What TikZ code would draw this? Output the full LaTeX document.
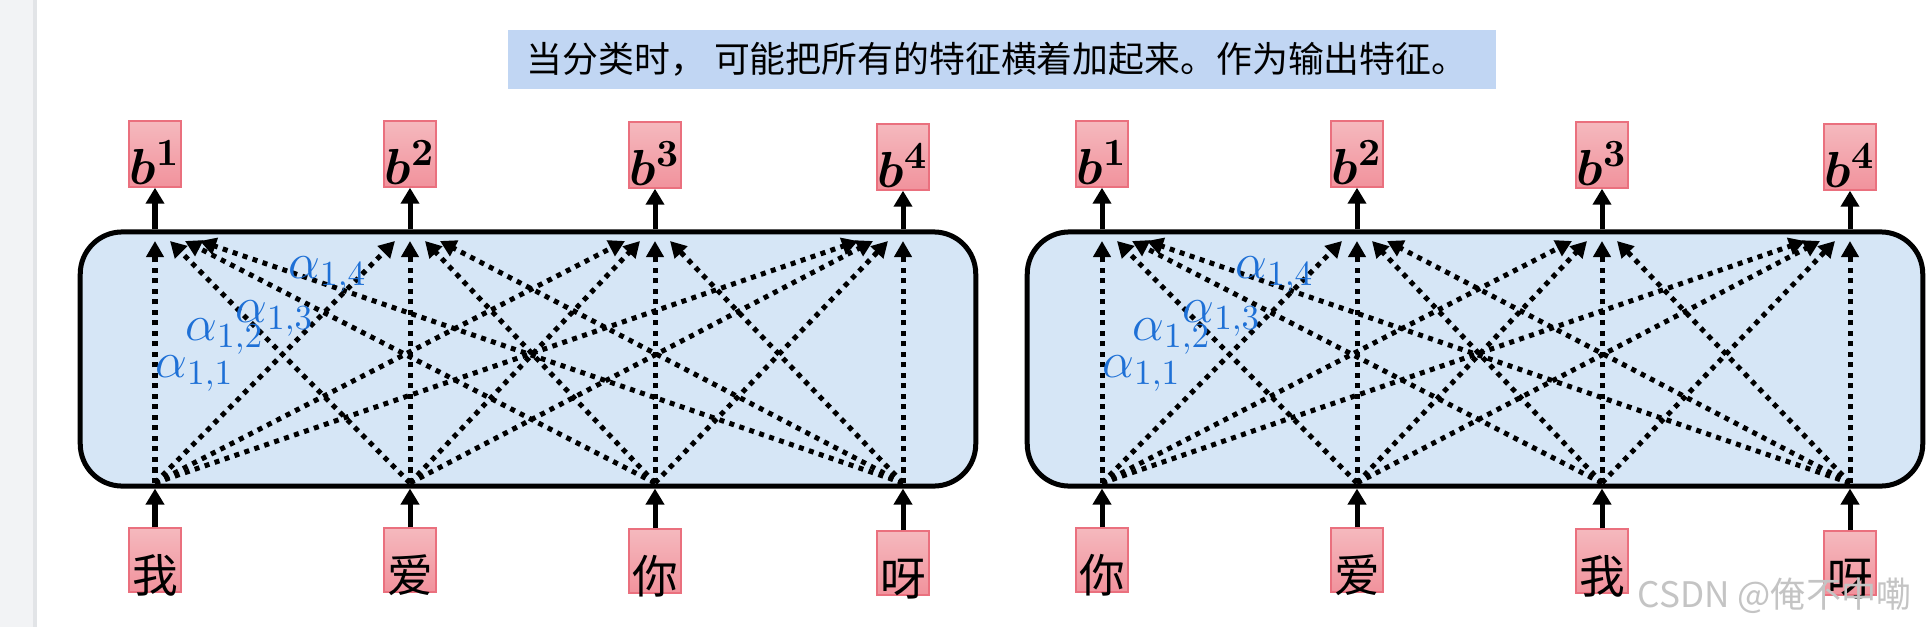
\documentclass[tikz,border=0pt]{standalone}
\usepackage{fontspec}
\usepackage{amsmath}
\usetikzlibrary{arrows.meta, calc, positioning}
\newfontfamily\cjk{Noto Sans CJK SC}
\definecolor{stripgray}{RGB}{242,243,245}
\definecolor{stripedge}{RGB}{226,228,231}
\definecolor{titleblue}{RGB}{193,214,243}
\definecolor{layerblue}{RGB}{214,230,246}
\definecolor{boxtop}{RGB}{245,185,190}
\definecolor{boxbot}{RGB}{241,146,156}
\definecolor{boxedge}{RGB}{234,112,126}
\definecolor{alphablue}{RGB}{30,112,214}
\definecolor{markgray}{RGB}{196,196,196}
\tikzset{
  outbox/.style={draw=boxedge, top color=boxtop, bottom color=boxbot, inner sep=0pt,
    minimum width=0.52cm, text height=0.63cm, text depth=0.03cm, font=\fontsize{15.5}{17}\selectfont\boldmath},
  inbox/.style={draw=boxedge, top color=boxtop, bottom color=boxbot, inner sep=0pt,
    minimum width=0.52cm, text height=0.64cm, text depth=0cm, font=\cjk\fontsize{13}{15}\selectfont},
  layer/.style={draw=black, line width=0.05cm, fill=layerblue, rounded corners=0.42cm,
    minimum width=8.95cm, minimum height=2.54cm, inner sep=0pt},
  outarrow/.style={line width=0.05cm, -{Triangle[length=0.16cm, width=0.18cm]}},
  attn/.style={line width=0.05cm, dash pattern=on 0.05cm off 0.055cm, -{Triangle[length=0.16cm, width=0.17cm]}},
  alphalab/.style={anchor=base west, text=alphablue, inner sep=0pt, font=\fontsize{14.5}{16}\selectfont}
}

\begin{document}
\begin{tikzpicture}[x=0.01cm, y=-0.01cm]
        % Page and side strip
        \useasboundingbox (0,0) rectangle (1929,627);
        \fill[white] (0,0) rectangle (1929,627);
        \fill[stripgray] (0,0) rectangle (34,627);
        \fill[stripedge] (33,0) rectangle (37,627);

        % Title
        \node[fill=titleblue, anchor=west, minimum width=9.88cm, minimum height=0.59cm] (titlebox) at (507,59.5) {};
        \node[anchor=west, inner sep=0pt, font=\cjk\fontsize{10.2}{12}\selectfont] (title) at ([xshift=0.19cm]titlebox.west) {当分类时， 可能把所有的特征横着加起来。作为输出特征。};

        % Two self-attention panels
        \foreach \p/\dx/\wordA/\wordB/\wordC/\wordD in {L/0/我/爱/你/呀, R/947/你/爱/我/呀} {
            \begin{scope}[shift={(\dx,0)}]
                \node[layer] (\p-layer) at (528,359) {};
                \foreach \k/\x/\dy/\w in {1/155/0/\wordA, 2/410/0/\wordB, 3/655/1/\wordC, 4/903/3/\wordD} {
                    \node[outbox] (\p-b\k) at (\x,154+\dy) {$b^{\k}$};
                    \node[inbox] (\p-x\k) at (\x,560+\dy) {\w};
                    \coordinate (\p-s\k) at (\x,483);
                    \coordinate (\p-t\k) at (\x,241);
                    \draw[outarrow] (\p-b\k |- \p-layer.north) -- (\p-b\k);
                    \draw[outarrow] (\p-x\k) -- (\p-x\k |- \p-layer.south);
                }
                % Attention lines
                \foreach \i in {1,...,4}
                    \foreach \j in {1,...,4}
                        \draw[attn] (\p-s\j) -- ($(\p-t\i)+({15*(\j-\i)},0)$);
                % Weights
                \node[alphalab] (\p-a1) at (155,377) {$\alpha_{1,1}$};
                \node[alphalab] (\p-a2) at (185,340) {$\alpha_{1,2}$};
                \node[alphalab] (\p-a3) at (235,322) {$\alpha_{1,3}$};
                \node[alphalab] (\p-a4) at (288,278) {$\alpha_{1,4}$};
            \end{scope}
        }

        % Watermark
        \node[anchor=base west, inner sep=0pt, text=markgray, font=\cjk\fontsize{10}{12}\selectfont] (mark) at (1637,607) {CSDN @俺不中嘞};
\end{tikzpicture}
\end{document}
